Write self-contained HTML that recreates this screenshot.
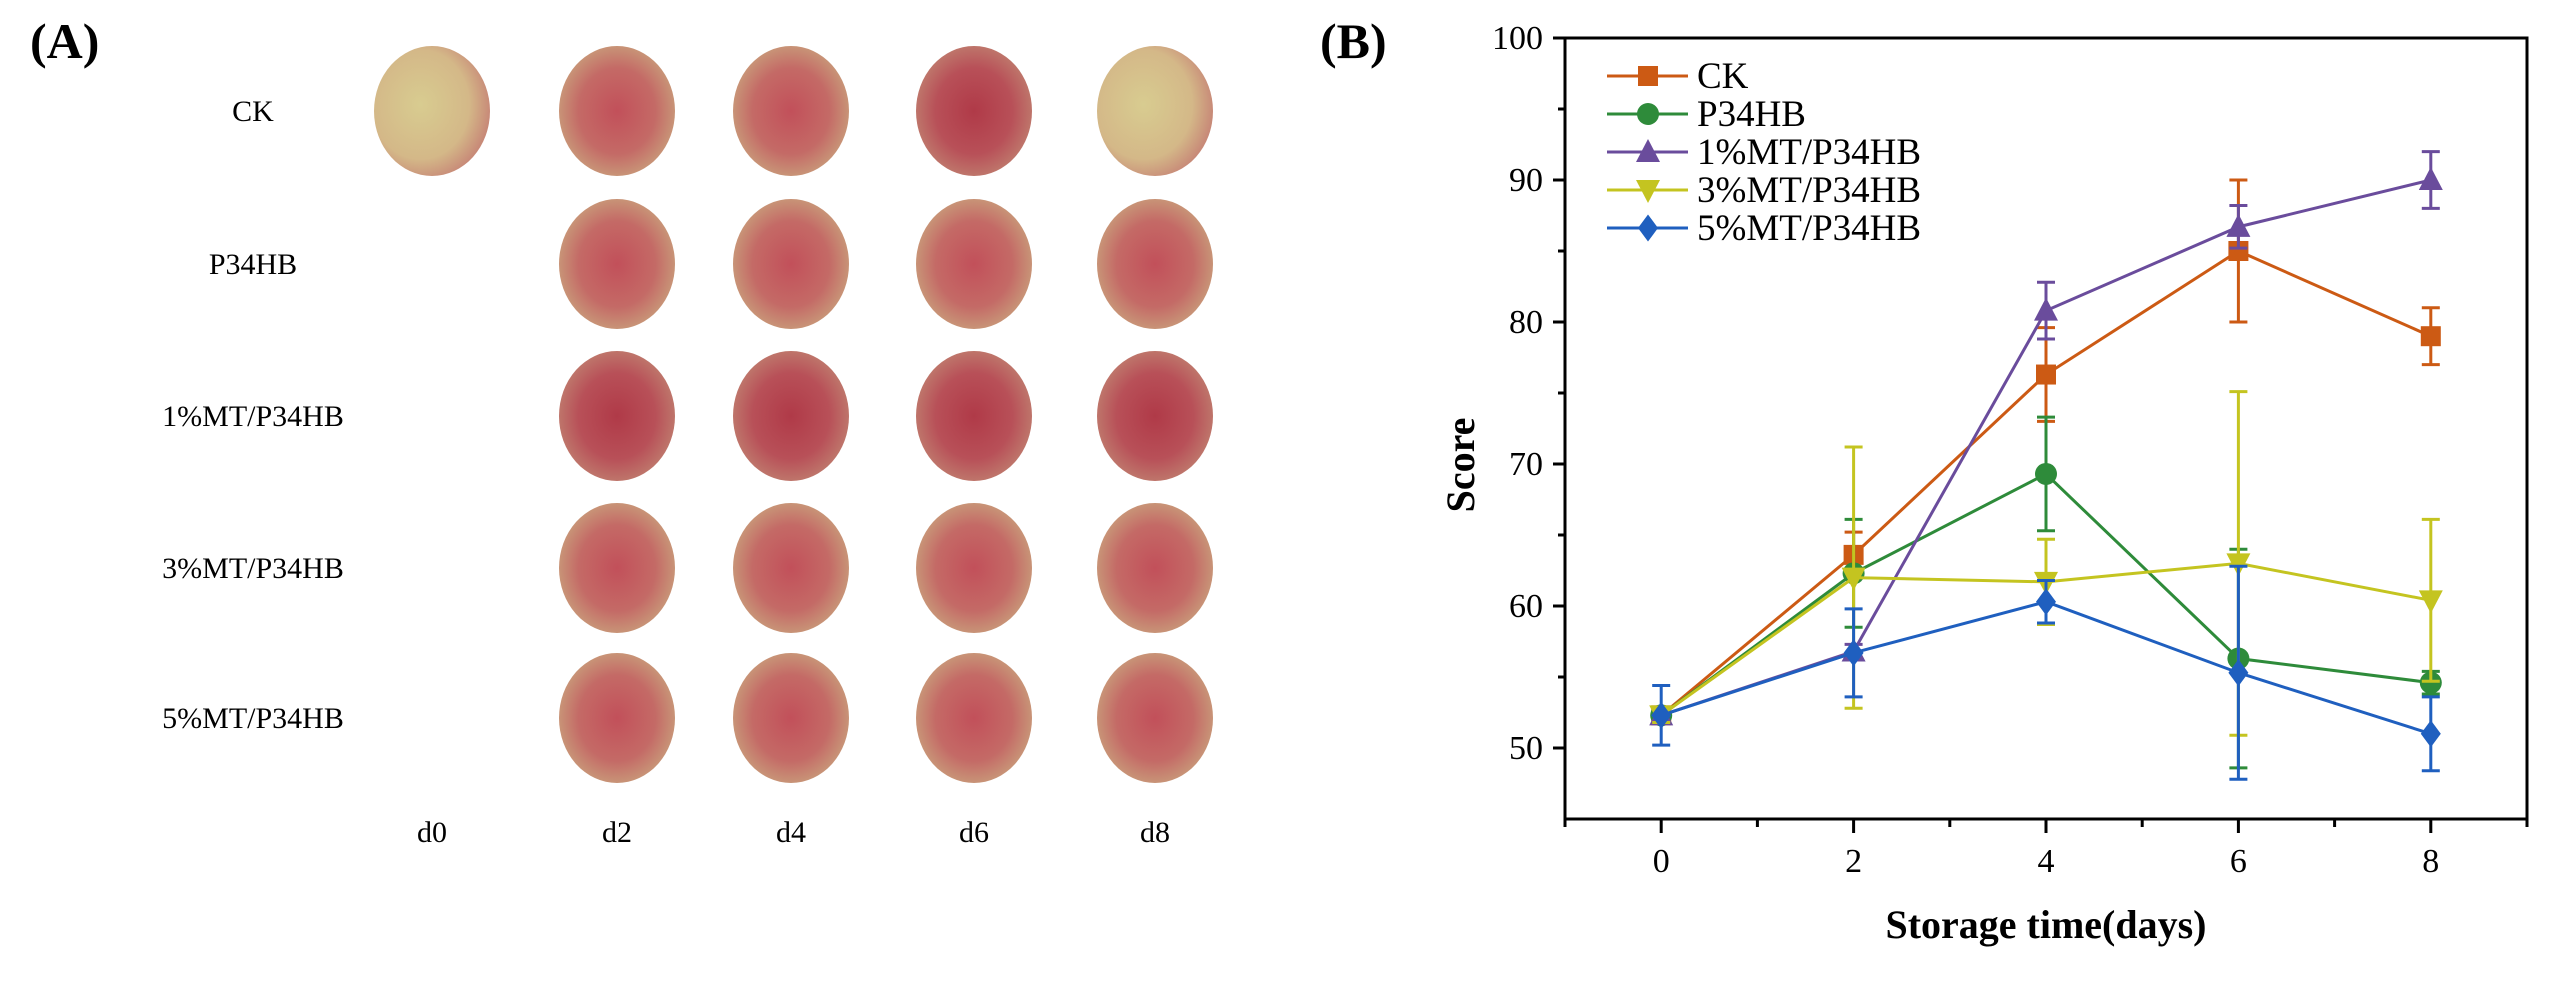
<!DOCTYPE html>
<html><head><meta charset="utf-8"><style>
html,body{margin:0;padding:0;background:#fff;}
svg{display:block;font-family:"Liberation Serif",serif;}
</style></head><body>
<svg id="fig" width="2557" height="982" viewBox="0 0 2557 982" xmlns="http://www.w3.org/2000/svg">
<defs>
<radialGradient id="peach" cx="50%" cy="50%" r="55%"><stop offset="0" stop-color="#c2505a"/><stop offset="0.6" stop-color="#c46a66"/><stop offset="1" stop-color="#c9a07c"/></radialGradient>
<radialGradient id="peachR" cx="50%" cy="50%" r="55%"><stop offset="0" stop-color="#b03a48"/><stop offset="0.6" stop-color="#b85058"/><stop offset="1" stop-color="#c08070"/></radialGradient>
<radialGradient id="peachY" cx="40%" cy="45%" r="60%"><stop offset="0" stop-color="#d8cc90"/><stop offset="0.7" stop-color="#d4b888"/><stop offset="1" stop-color="#c88a78"/></radialGradient>
</defs>
<g id="panelA">
<text x="30" y="58" font-size="50" font-weight="bold">(A)</text>
</g>
<g id="panelB">
<text x="1320" y="58" font-size="50" font-weight="bold">(B)</text>
</g>
</svg>
<script>
const NS="http://www.w3.org/2000/svg";
const days=[0,2,4,6,8];
const seriesNames=["CK","P34HB","1%MT/P34HB","3%MT/P34HB","5%MT/P34HB"];
const seriesColors=["#cc5a14","#2e8b3a","#6a4c9c","#c4c420","#1f5fbf"];
const markers=["square","circle","triangle","invtriangle","diamond"];
const ckValues=[52.3,63.6,76.3,85.0,79.0];
const ckErrors=[0.5,1.6,3.3,5.0,2.0];
const p34hbValues=[52.3,62.3,69.3,56.3,54.6];
const p34hbErrors=[0.5,3.8,4.0,7.7,0.8];
const mt1Values=[52.3,56.8,80.8,86.7,90.0];
const mt1Errors=[0.5,0.5,2.0,1.5,2.0];
const mt3Values=[52.3,62.0,61.7,63.0,60.4];
const mt3Errors=[0.5,9.2,3.0,12.1,5.7];
const mt5Values=[52.3,56.7,60.3,55.3,51.0];
const mt5Errors=[2.1,3.1,1.5,7.5,2.6];
const yTicks=[50,60,70,80,90,100];
const xTicks=[0,2,4,6,8];
const rowLabels=["CK","P34HB","1%MT/P34HB","3%MT/P34HB","5%MT/P34HB"];
const colLabels=["d0","d2","d4","d6","d8"];

const allValues=[ckValues,p34hbValues,mt1Values,mt3Values,mt5Values];
const allErrors=[ckErrors,p34hbErrors,mt1Errors,mt3Errors,mt5Errors];
const A=document.getElementById("panelA");
const B=document.getElementById("panelB");
function mk(tag,attrs,parent){const e=document.createElementNS(NS,tag);for(const k in attrs)e.setAttribute(k,attrs[k]);parent.appendChild(e);return e;}

// Panel A
const rowY=[111,264,416,568,718];
const colX=[432,617,791,974,1155];
rowLabels.forEach((l,i)=>{
  const t=mk("text",{x:253,y:rowY[i]+10,"font-size":30,"text-anchor":"middle"},A);
  t.textContent=l;
  
  
});
colLabels.forEach((l,i)=>{
  const t=mk("text",{x:colX[i],y:842,"font-size":30,"text-anchor":"middle"},A);
  t.textContent=l;
  
  
});
for(let r=0;r<5;r++){for(let c=0;c<5;c++){
  if(c===0&&r>0)continue;
  let fill="url(#peach)";
  if(r===0&&c===4)fill="url(#peachY)";
  if((r===2)||(r===0&&c===3))fill="url(#peachR)";
  if(r===0&&c===0)fill="url(#peachY)";
  const e=mk("ellipse",{cx:colX[c],cy:rowY[r],rx:58,ry:65,fill:fill},A);
  
  
}}

// Panel B
const X0=1565,X1=2527,Y0=38,Y1=819;
const xmin=-1,xmax=9,ymin=45,ymax=100;
const sx=v=>X0+(v-xmin)/(xmax-xmin)*(X1-X0);
const sy=v=>Y1-(v-ymin)/(ymax-ymin)*(Y1-Y0);
const frame=mk("rect",{x:X0,y:Y0,width:X1-X0,height:Y1-Y0,fill:"none",stroke:"#000","stroke-width":3},B);


for(let v=50;v<=100;v+=5){
  const major=v%10===0;
  const tk=mk("line",{x1:X0,x2:X0-(major?12:7),y1:sy(v),y2:sy(v),stroke:"#000","stroke-width":3},B);
  
  
}
yTicks.forEach(v=>{
  const t=mk("text",{x:X0-22,y:sy(v)+11,"font-size":34,"text-anchor":"end"},B);
  t.textContent=v;
  
  
});
for(let v=-1;v<=9;v++){
  const major=v%2===0;
  const tk=mk("line",{x1:sx(v),x2:sx(v),y1:Y1,y2:Y1+(major?14:8),stroke:"#000","stroke-width":3},B);
  
  
}
xTicks.forEach(v=>{
  const t=mk("text",{x:sx(v),y:872,"font-size":34,"text-anchor":"middle"},B);
  t.textContent=v;
  
  
});
const yt=mk("text",{x:1474,y:465,"font-size":40,"font-weight":"bold","text-anchor":"middle",transform:"rotate(-90 1474 465)"},B);
yt.textContent="Score";


const xt=mk("text",{x:(X0+X1)/2,y:938,"font-size":40,"font-weight":"bold","text-anchor":"middle"},B);
xt.textContent="Storage time(days)";



function marker(type,x,y,col,parent,s){
  let e;
  if(type==="square")e=mk("rect",{x:x-s,y:y-s,width:2*s,height:2*s,fill:col},parent);
  else if(type==="circle")e=mk("circle",{cx:x,cy:y,r:s*1.1,fill:col},parent);
  else if(type==="triangle")e=mk("polygon",{points:`${x},${y-s*1.3} ${x-s*1.2},${y+s} ${x+s*1.2},${y+s}`,fill:col},parent);
  else if(type==="invtriangle")e=mk("polygon",{points:`${x},${y+s*1.3} ${x-s*1.2},${y-s} ${x+s*1.2},${y-s}`,fill:col},parent);
  else e=mk("polygon",{points:`${x},${y-s*1.35} ${x+s},${y} ${x},${y+s*1.35} ${x-s},${y}`,fill:col},parent);
  return e;
}
allValues.forEach((vals,si)=>{
  const g=mk("g",{},B);
  
  
  const col=seriesColors[si];
  const pl=mk("polyline",{points:vals.map((v,i)=>sx(days[i])+","+sy(v)).join(" "),fill:"none",stroke:col,"stroke-width":3},g);
  
  
  vals.forEach((v,i)=>{
    const er=allErrors[si][i],x=sx(days[i]);
    const eb=mk("path",{d:`M${x},${sy(v+er)}V${sy(v-er)}M${x-9},${sy(v+er)}h18M${x-9},${sy(v-er)}h18`,stroke:col,"stroke-width":3,fill:"none"},g);
    
    
    const m=marker(markers[si],x,sy(v),col,g,10);
    
    
  });
});
// legend
seriesNames.forEach((n,i)=>{
  const y=76+i*38;
  const g=mk("g",{},B);
  
  
  mk("line",{x1:1607,x2:1688,y1:y,y2:y,stroke:seriesColors[i],"stroke-width":3},g);
  marker(markers[i],1648,y,seriesColors[i],g,10);
  const t=mk("text",{x:1697,y:y+12,"font-size":37},g);
  t.textContent=n;
});
</script>
</body></html>
